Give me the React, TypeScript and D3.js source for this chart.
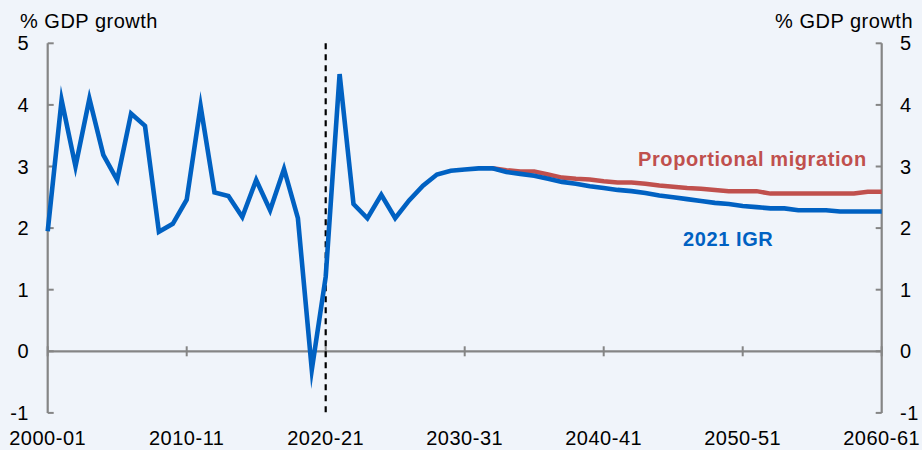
import React from "react";
import * as d3 from "d3";

const years: number[] = d3.range(2000, 2061);
const tickYears: number[] = [2000, 2010, 2020, 2030, 2040, 2050, 2060];
const tickLabels: string[] = ["2000-01", "2010-11", "2020-21", "2030-31", "2040-41", "2050-51", "2060-61"];
const yTicks: number[] = [-1, 0, 1, 2, 3, 4, 5];

const igr2021: number[] = [
  1.95, 4.08, 3.0, 4.1, 3.19, 2.78, 3.86, 3.66, 1.94, 2.07,
  2.46, 3.98, 2.58, 2.52, 2.18, 2.78, 2.29, 2.96, 2.16, -0.3,
  1.21, 4.5, 2.39, 2.16, 2.54, 2.16, 2.45, 2.69, 2.87, 2.93,
  2.95, 2.97, 2.97, 2.91, 2.88, 2.85, 2.8, 2.75, 2.72, 2.68,
  2.65, 2.62, 2.6, 2.57, 2.53, 2.5, 2.47, 2.44, 2.41, 2.39,
  2.36, 2.34, 2.32, 2.32, 2.29, 2.29, 2.29, 2.27, 2.27, 2.27,
  2.27,
];

const propStart = 2032;
const proportional: number[] = [
  2.97, 2.94, 2.92, 2.92, 2.87, 2.82, 2.8, 2.79, 2.76, 2.74,
  2.74, 2.72, 2.69, 2.67, 2.65, 2.64, 2.62, 2.6, 2.6, 2.6,
  2.56, 2.56, 2.56, 2.56, 2.56, 2.56, 2.56, 2.59, 2.59,
];

const forecastStart = 2020;

const W = 922;
const H = 450;
const BG = "#F0F4FA";
const AXIS = "#858585";
const BLUE = "#0061C2";
const RED = "#C0504D";
const FONT = "'Liberation Sans', Arial, sans-serif";

export default function App() {
  const x = d3.scaleLinear().domain([2000, 2060]).range([47.7, 881.7]);
  const y = d3.scaleLinear().domain([-1, 5]).range([412.9, 43.3]);

  const line = d3
    .line<[number, number]>()
    .x((d) => x(d[0]))
    .y((d) => y(d[1]));

  const blueData: [number, number][] = years.map((yr, i) => [yr, igr2021[i]]);
  const redData: [number, number][] = proportional.map((v, i) => [propStart + i, v]);

  const xL = x(2000);
  const xR = x(2060);
  const y0 = y(0);

  return (
    <svg
      width={W}
      height={H}
      style={{ position: "absolute", left: 0, top: 0, display: "block" }}
      fontFamily={FONT}
    >
      <rect x={0} y={0} width={W} height={H} fill={BG} />

      {/* axes */}
      <line x1={xL} x2={xL} y1={y(5)} y2={y(-1)} stroke={AXIS} strokeWidth={2.2} />
      <line x1={xR} x2={xR} y1={y(5)} y2={y(-1)} stroke={AXIS} strokeWidth={2.2} />
      {yTicks.map((t) => (
        <g key={"yt" + t}>
          <line x1={xL} x2={xL + 6} y1={y(t)} y2={y(t)} stroke={AXIS} strokeWidth={2} />
          <line x1={xR - 6} x2={xR} y1={y(t)} y2={y(t)} stroke={AXIS} strokeWidth={2} />
          <text x={29} y={y(t) + 7} textAnchor="end" fontSize={20} letterSpacing={0.5} fill="#000">
            {t}
          </text>
          <text x={900} y={y(t) + 7} textAnchor="start" fontSize={20} letterSpacing={0.5} fill="#000">
            {t}
          </text>
        </g>
      ))}
      <line x1={xL} x2={xR} y1={y0} y2={y0} stroke={AXIS} strokeWidth={2.2} />
      {tickYears.map((t, i) => (
        <g key={"xt" + t}>
          <line x1={x(t)} x2={x(t)} y1={y0 - 5} y2={y0 + 5} stroke={AXIS} strokeWidth={2} />
          <text x={x(t)} y={445} textAnchor="middle" fontSize={20} letterSpacing={0.5} fill="#000">
            {tickLabels[i]}
          </text>
        </g>
      ))}

      {/* titles */}
      <text x={20} y={28} fontSize={20} letterSpacing={0.5} fill="#000">
        % GDP growth
      </text>
      <text x={913} y={28} textAnchor="end" fontSize={20} letterSpacing={0.5} fill="#000">
        % GDP growth
      </text>

      {/* forecast divider */}
      <line
        x1={x(forecastStart)}
        x2={x(forecastStart)}
        y1={y(5)}
        y2={y(-1)}
        stroke="#000"
        strokeWidth={2.2}
        strokeDasharray="6,5"
      />

      {/* series */}
      <path d={line(redData) || ""} fill="none" stroke={RED} strokeWidth={4.5} strokeLinejoin="miter" />
      <path d={line(blueData) || ""} fill="none" stroke={BLUE} strokeWidth={4.6} strokeLinejoin="miter" strokeMiterlimit={10} />

      {/* labels */}
      <text x={638} y={165.5} fontSize={20} fontWeight="bold" letterSpacing={0.6} fill={RED}>
        Proportional migration
      </text>
      <text x={683} y={246} fontSize={20} fontWeight="bold" letterSpacing={0.6} fill={BLUE}>
        2021 IGR
      </text>
    </svg>
  );
}
